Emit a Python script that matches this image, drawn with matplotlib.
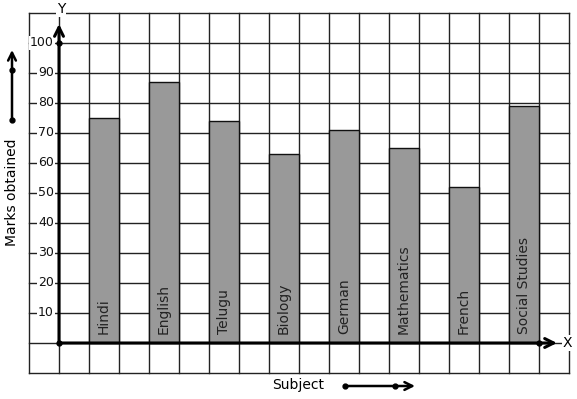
import matplotlib.pyplot as plt

subjects = ['Hindi', 'English', 'Telugu', 'Biology', 'German',
            'Mathematics', 'French', 'Social Studies']
marks = [75, 87, 74, 63, 71, 65, 52, 79]
y_ticks = [10, 20, 30, 40, 50, 60, 70, 80, 90, 100]

# one x unit = 30 px, 10 marks = 30 px, origin at pixel (59, 343)
W, H = 577, 399
OX, OY = 59, 343


def ux(p):
    return (p - OX) / 30.0


def uy(p):
    return (OY - p) / 3.0


fig = plt.figure(figsize=(W / 100, H / 100), dpi=100)
ax = fig.add_axes([0, 0, 1, 1])
ax.set_xlim(ux(0), ux(W))
ax.set_ylim(uy(H), uy(0))
ax.axis('off')

grid_c = '#222222'
for gx in range(-1, 18):
    ax.plot([gx, gx], [-10, 110], color=grid_c, lw=1, zorder=1)
for gy in range(-10, 111, 10):
    ax.plot([-1, 17], [gy, gy], color=grid_c, lw=1, zorder=1)

# bars
xs = [1.5 + 2 * i for i in range(len(subjects))]
ax.bar(xs, marks, width=1.0, color='#999999', edgecolor='#111111',
       linewidth=1, zorder=2)
for x, s in zip(xs, subjects):
    ax.text(x, uy(334), s, rotation=90, ha='center', va='bottom',
            fontsize=10, color='#222222', zorder=3)

# y tick labels
for t in y_ticks:
    ax.text(ux(54), t, str(t), ha='right', va='center', fontsize=9,
            color='#111111', zorder=3,
            bbox=dict(facecolor='white', edgecolor='none', pad=0.6))

# axes with arrows
ax.annotate('', xy=(ux(557), 0), xytext=(0, 0), zorder=4,
            arrowprops=dict(arrowstyle='->', lw=2.2, color='black',
                            mutation_scale=16, shrinkA=0, shrinkB=0))
ax.annotate('', xy=(0, uy(24)), xytext=(0, 0), zorder=4,
            arrowprops=dict(arrowstyle='->', lw=2.2, color='black',
                            mutation_scale=16, shrinkA=0, shrinkB=0))
ax.plot([0, 0, 16], [0, 100, 0], 'o', color='black', ms=3.5, zorder=5)
ax.text(ux(567), 0, 'X', ha='center', va='center', fontsize=10,
        zorder=5, bbox=dict(facecolor='white', edgecolor='none', pad=0.5))
ax.text(ux(61), uy(9), 'Y', ha='center', va='center', fontsize=10,
        zorder=5, bbox=dict(facecolor='white', edgecolor='none', pad=0.5))

# axis titles with little arrows
ax.text(ux(12), uy(192), 'Marks obtained', rotation=90, ha='center',
        va='center', fontsize=10)
ax.annotate('', xy=(ux(12), uy(50)), xytext=(ux(12), uy(120)),
            arrowprops=dict(arrowstyle='->', lw=1.8, color='black',
                            mutation_scale=14, shrinkA=0, shrinkB=0))
ax.plot([ux(12), ux(12)], [uy(120), uy(70)], 'o', color='black', ms=3.5)

ax.text(ux(298), uy(385), 'Subject', ha='center', va='center', fontsize=10)
ax.annotate('', xy=(ux(415), uy(386)), xytext=(ux(345), uy(386)),
            arrowprops=dict(arrowstyle='->', lw=1.8, color='black',
                            mutation_scale=14, shrinkA=0, shrinkB=0))
ax.plot([ux(345), ux(395)], [uy(386), uy(386)], 'o', color='black', ms=3.5)

fig.savefig('out.png', dpi=100)
